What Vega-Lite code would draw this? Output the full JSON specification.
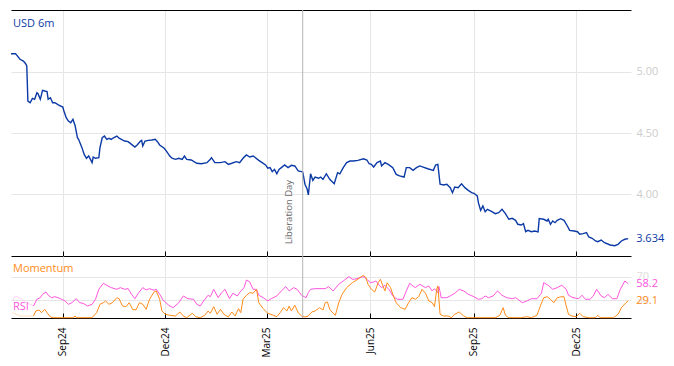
{
  "$schema": "https://vega.github.io/schema/vega-lite/v6.json",
  "background": "white",
  "padding": {"left": 8, "top": 9, "right": 0, "bottom": 0},
  "spacing": 0,
  "bounds": "flush",
  "config": {
    "font": "Open Sans",
    "view": {"stroke": null},
    "axis": {"labelFont": "Open Sans", "labelFontSize": 11, "gridColor": "#e6e6e6", "gridWidth": 1}
  },
  "datasets": {
    "usd": [
      {"date":"2024-07-17","rate":5.150},{"date":"2024-07-21","rate":5.150},{"date":"2024-07-25","rate":5.104},{"date":"2024-07-28","rate":5.090},{"date":"2024-07-30","rate":5.068},{"date":"2024-07-31","rate":5.049},{"date":"2024-08-01","rate":4.762},{"date":"2024-08-03","rate":4.748},{"date":"2024-08-05","rate":4.784},{"date":"2024-08-07","rate":4.776},{"date":"2024-08-09","rate":4.830},{"date":"2024-08-10","rate":4.822},{"date":"2024-08-12","rate":4.776},{"date":"2024-08-14","rate":4.850},{"date":"2024-08-16","rate":4.844},{"date":"2024-08-18","rate":4.839},{"date":"2024-08-19","rate":4.776},{"date":"2024-08-21","rate":4.789},{"date":"2024-08-23","rate":4.748},{"date":"2024-08-25","rate":4.748},{"date":"2024-08-28","rate":4.730},
      {"date":"2024-09-01","rate":4.713},{"date":"2024-09-02","rate":4.680},{"date":"2024-09-04","rate":4.625},{"date":"2024-09-06","rate":4.598},{"date":"2024-09-08","rate":4.584},{"date":"2024-09-10","rate":4.612},{"date":"2024-09-12","rate":4.557},{"date":"2024-09-14","rate":4.461},{"date":"2024-09-15","rate":4.448},{"date":"2024-09-18","rate":4.380},{"date":"2024-09-20","rate":4.325},{"date":"2024-09-22","rate":4.293},{"date":"2024-09-24","rate":4.312},{"date":"2024-09-27","rate":4.257},{"date":"2024-09-28","rate":4.303},{"date":"2024-09-30","rate":4.293},
      {"date":"2024-10-03","rate":4.298},{"date":"2024-10-04","rate":4.380},{"date":"2024-10-06","rate":4.461},{"date":"2024-10-08","rate":4.475},{"date":"2024-10-10","rate":4.448},{"date":"2024-10-12","rate":4.457},{"date":"2024-10-14","rate":4.448},{"date":"2024-10-16","rate":4.461},{"date":"2024-10-19","rate":4.475},{"date":"2024-10-21","rate":4.457},{"date":"2024-10-23","rate":4.448},{"date":"2024-10-26","rate":4.434},{"date":"2024-10-29","rate":4.429},
      {"date":"2024-11-01","rate":4.407},{"date":"2024-11-04","rate":4.385},{"date":"2024-11-06","rate":4.402},{"date":"2024-11-09","rate":4.434},{"date":"2024-11-10","rate":4.440},{"date":"2024-11-11","rate":4.393},{"date":"2024-11-13","rate":4.434},{"date":"2024-11-16","rate":4.440},{"date":"2024-11-19","rate":4.443},{"date":"2024-11-22","rate":4.448},{"date":"2024-11-24","rate":4.429},{"date":"2024-11-26","rate":4.402},{"date":"2024-11-30","rate":4.375},
      {"date":"2024-12-02","rate":4.352},{"date":"2024-12-05","rate":4.311},{"date":"2024-12-07","rate":4.293},{"date":"2024-12-10","rate":4.284},{"date":"2024-12-13","rate":4.293},{"date":"2024-12-16","rate":4.284},{"date":"2024-12-18","rate":4.311},{"date":"2024-12-20","rate":4.284},{"date":"2024-12-24","rate":4.279},{"date":"2024-12-29","rate":4.252},
      {"date":"2025-01-02","rate":4.248},{"date":"2025-01-07","rate":4.257},{"date":"2025-01-10","rate":4.284},{"date":"2025-01-11","rate":4.298},{"date":"2025-01-14","rate":4.257},{"date":"2025-01-19","rate":4.257},{"date":"2025-01-23","rate":4.265},{"date":"2025-01-26","rate":4.243},{"date":"2025-01-29","rate":4.252},
      {"date":"2025-02-02","rate":4.265},{"date":"2025-02-05","rate":4.257},{"date":"2025-02-08","rate":4.293},{"date":"2025-02-11","rate":4.320},{"date":"2025-02-14","rate":4.303},{"date":"2025-02-17","rate":4.311},{"date":"2025-02-22","rate":4.276},{"date":"2025-02-25","rate":4.257},{"date":"2025-02-28","rate":4.238},
      {"date":"2025-03-02","rate":4.211},{"date":"2025-03-04","rate":4.216},{"date":"2025-03-06","rate":4.183},{"date":"2025-03-08","rate":4.202},{"date":"2025-03-10","rate":4.166},{"date":"2025-03-12","rate":4.202},{"date":"2025-03-14","rate":4.216},{"date":"2025-03-17","rate":4.238},{"date":"2025-03-20","rate":4.216},{"date":"2025-03-23","rate":4.235},{"date":"2025-03-26","rate":4.230},{"date":"2025-03-29","rate":4.189},
      {"date":"2025-04-01","rate":4.183},{"date":"2025-04-02","rate":4.180},{"date":"2025-04-04","rate":4.080},{"date":"2025-04-06","rate":4.039},{"date":"2025-04-07","rate":3.992},{"date":"2025-04-09","rate":4.166},{"date":"2025-04-11","rate":4.112},{"date":"2025-04-13","rate":4.139},{"date":"2025-04-16","rate":4.129},{"date":"2025-04-18","rate":4.139},{"date":"2025-04-20","rate":4.120},{"date":"2025-04-23","rate":4.166},{"date":"2025-04-26","rate":4.120},{"date":"2025-04-30","rate":4.084},
      {"date":"2025-05-03","rate":4.175},{"date":"2025-05-05","rate":4.166},{"date":"2025-05-08","rate":4.216},{"date":"2025-05-11","rate":4.257},{"date":"2025-05-14","rate":4.270},{"date":"2025-05-17","rate":4.270},{"date":"2025-05-21","rate":4.276},{"date":"2025-05-26","rate":4.289},{"date":"2025-05-29","rate":4.279},{"date":"2025-05-31","rate":4.248},
      {"date":"2025-06-02","rate":4.243},{"date":"2025-06-04","rate":4.221},{"date":"2025-06-07","rate":4.257},{"date":"2025-06-10","rate":4.270},{"date":"2025-06-11","rate":4.230},{"date":"2025-06-14","rate":4.257},{"date":"2025-06-17","rate":4.243},{"date":"2025-06-21","rate":4.216},{"date":"2025-06-24","rate":4.161},{"date":"2025-06-27","rate":4.148},
      {"date":"2025-07-01","rate":4.139},{"date":"2025-07-03","rate":4.216},{"date":"2025-07-06","rate":4.216},{"date":"2025-07-09","rate":4.194},{"date":"2025-07-12","rate":4.216},{"date":"2025-07-15","rate":4.230},{"date":"2025-07-18","rate":4.221},{"date":"2025-07-22","rate":4.207},{"date":"2025-07-27","rate":4.194},{"date":"2025-07-29","rate":4.238},{"date":"2025-07-31","rate":4.243},
      {"date":"2025-08-02","rate":4.080},{"date":"2025-08-05","rate":4.074},{"date":"2025-08-08","rate":4.080},{"date":"2025-08-11","rate":4.052},{"date":"2025-08-13","rate":4.011},{"date":"2025-08-15","rate":4.057},{"date":"2025-08-18","rate":4.052},{"date":"2025-08-21","rate":4.084},{"date":"2025-08-24","rate":4.052},{"date":"2025-08-27","rate":4.030},{"date":"2025-08-30","rate":4.011},
      {"date":"2025-09-01","rate":4.006},{"date":"2025-09-04","rate":3.984},{"date":"2025-09-05","rate":3.929},{"date":"2025-09-07","rate":3.866},{"date":"2025-09-09","rate":3.902},{"date":"2025-09-11","rate":3.855},{"date":"2025-09-13","rate":3.875},{"date":"2025-09-17","rate":3.855},{"date":"2025-09-20","rate":3.839},{"date":"2025-09-23","rate":3.847},{"date":"2025-09-26","rate":3.875},{"date":"2025-09-29","rate":3.839},
      {"date":"2025-10-02","rate":3.793},{"date":"2025-10-05","rate":3.801},{"date":"2025-10-08","rate":3.784},{"date":"2025-10-10","rate":3.752},{"date":"2025-10-13","rate":3.746},{"date":"2025-10-15","rate":3.757},{"date":"2025-10-17","rate":3.691},{"date":"2025-10-19","rate":3.702},{"date":"2025-10-22","rate":3.691},{"date":"2025-10-25","rate":3.697},{"date":"2025-10-28","rate":3.689},{"date":"2025-10-29","rate":3.798},
      {"date":"2025-11-02","rate":3.793},{"date":"2025-11-05","rate":3.779},{"date":"2025-11-06","rate":3.793},{"date":"2025-11-08","rate":3.752},{"date":"2025-11-10","rate":3.779},{"date":"2025-11-12","rate":3.765},{"date":"2025-11-14","rate":3.784},{"date":"2025-11-17","rate":3.798},{"date":"2025-11-20","rate":3.784},{"date":"2025-11-23","rate":3.738},{"date":"2025-11-25","rate":3.702},{"date":"2025-11-29","rate":3.697},
      {"date":"2025-12-02","rate":3.691},{"date":"2025-12-04","rate":3.670},{"date":"2025-12-07","rate":3.675},{"date":"2025-12-10","rate":3.683},{"date":"2025-12-12","rate":3.648},{"date":"2025-12-15","rate":3.637},{"date":"2025-12-18","rate":3.615},{"date":"2025-12-20","rate":3.609},{"date":"2025-12-23","rate":3.623},{"date":"2025-12-26","rate":3.601},{"date":"2025-12-31","rate":3.582},
      {"date":"2026-01-04","rate":3.576},{"date":"2026-01-07","rate":3.588},{"date":"2026-01-10","rate":3.615},{"date":"2026-01-13","rate":3.629},{"date":"2026-01-16","rate":3.634}
    ],
    "osc": [
      {"date":"2024-07-18","series":"RSI warm-up","value":28.8},{"date":"2024-07-21","series":"RSI warm-up","value":37.3},{"date":"2024-07-25","series":"RSI warm-up","value":33.9},{"date":"2024-07-31","series":"RSI warm-up","value":25.9},{"date":"2024-08-06","series":"RSI warm-up","value":20.3},
      {"date":"2024-07-18","series":"Momentum warm-up","value":9.0},{"date":"2024-07-25","series":"Momentum warm-up","value":3.4},{"date":"2024-08-06","series":"Momentum warm-up","value":3.4},
      {"date":"2024-08-06","series":"RSI","value":20.3},{"date":"2024-08-09","series":"RSI","value":31.7},{"date":"2024-08-12","series":"RSI","value":34.4},{"date":"2024-08-14","series":"RSI","value":40.2},{"date":"2024-08-17","series":"RSI","value":44.1},{"date":"2024-08-19","series":"RSI","value":38.5},{"date":"2024-08-22","series":"RSI","value":34.4},{"date":"2024-08-25","series":"RSI","value":36.1},{"date":"2024-08-30","series":"RSI","value":32.7},{"date":"2024-09-03","series":"RSI","value":28.8},{"date":"2024-09-06","series":"RSI","value":23.2},{"date":"2024-09-09","series":"RSI","value":25.9},{"date":"2024-09-13","series":"RSI","value":32.7},{"date":"2024-09-16","series":"RSI","value":25.9},{"date":"2024-09-19","series":"RSI","value":24.9},{"date":"2024-09-23","series":"RSI","value":20.3},{"date":"2024-09-27","series":"RSI","value":23.2},{"date":"2024-09-30","series":"RSI","value":31.7},
      {"date":"2024-10-03","series":"RSI","value":48.6},{"date":"2024-10-07","series":"RSI","value":58.8},{"date":"2024-10-10","series":"RSI","value":55.4},{"date":"2024-10-14","series":"RSI","value":51.4},{"date":"2024-10-19","series":"RSI","value":48.6},{"date":"2024-10-22","series":"RSI","value":51.4},{"date":"2024-10-26","series":"RSI","value":48.6},{"date":"2024-10-29","series":"RSI","value":49.7},{"date":"2024-11-01","series":"RSI","value":40.2},{"date":"2024-11-04","series":"RSI","value":32.7},{"date":"2024-11-07","series":"RSI","value":41.9},{"date":"2024-11-11","series":"RSI","value":51.4},{"date":"2024-11-14","series":"RSI","value":47.5},{"date":"2024-11-17","series":"RSI","value":49.7},{"date":"2024-11-21","series":"RSI","value":47.0},{"date":"2024-11-23","series":"RSI","value":48.6},{"date":"2024-11-26","series":"RSI","value":40.2},{"date":"2024-11-29","series":"RSI","value":30.5},
      {"date":"2024-12-04","series":"RSI","value":21.5},{"date":"2024-12-08","series":"RSI","value":17.5},{"date":"2024-12-13","series":"RSI","value":25.9},{"date":"2024-12-17","series":"RSI","value":37.3},{"date":"2024-12-21","series":"RSI","value":32.7},{"date":"2024-12-26","series":"RSI","value":31.7},{"date":"2024-12-29","series":"RSI","value":23.2},{"date":"2025-01-01","series":"RSI","value":20.3},{"date":"2025-01-04","series":"RSI","value":28.8},{"date":"2025-01-08","series":"RSI","value":38.5},{"date":"2025-01-10","series":"RSI","value":36.1},{"date":"2025-01-13","series":"RSI","value":48.6},{"date":"2025-01-17","series":"RSI","value":34.4},{"date":"2025-01-20","series":"RSI","value":42.9},{"date":"2025-01-23","series":"RSI","value":48.6},{"date":"2025-01-27","series":"RSI","value":32.7},{"date":"2025-01-30","series":"RSI","value":41.9},
      {"date":"2025-02-03","series":"RSI","value":37.3},{"date":"2025-02-06","series":"RSI","value":45.8},{"date":"2025-02-09","series":"RSI","value":51.4},{"date":"2025-02-11","series":"RSI","value":64.4},{"date":"2025-02-14","series":"RSI","value":61.0},{"date":"2025-02-17","series":"RSI","value":48.6},{"date":"2025-02-20","series":"RSI","value":48.6},{"date":"2025-02-22","series":"RSI","value":38.5},{"date":"2025-02-26","series":"RSI","value":34.4},{"date":"2025-03-02","series":"RSI","value":28.8},{"date":"2025-03-05","series":"RSI","value":32.7},{"date":"2025-03-10","series":"RSI","value":37.3},{"date":"2025-03-14","series":"RSI","value":45.8},{"date":"2025-03-18","series":"RSI","value":53.1},{"date":"2025-03-21","series":"RSI","value":45.8},{"date":"2025-03-25","series":"RSI","value":51.4},{"date":"2025-03-28","series":"RSI","value":48.6},
      {"date":"2025-04-01","series":"RSI","value":38.5},{"date":"2025-04-05","series":"RSI","value":34.4},{"date":"2025-04-07","series":"RSI","value":42.9},{"date":"2025-04-09","series":"RSI","value":48.6},{"date":"2025-04-13","series":"RSI","value":49.7},{"date":"2025-04-22","series":"RSI","value":49.7},{"date":"2025-04-25","series":"RSI","value":53.1},{"date":"2025-04-29","series":"RSI","value":45.8},{"date":"2025-05-04","series":"RSI","value":57.1},{"date":"2025-05-08","series":"RSI","value":62.7},{"date":"2025-05-13","series":"RSI","value":70.0},{"date":"2025-05-16","series":"RSI","value":65.6},{"date":"2025-05-18","series":"RSI","value":65.6},{"date":"2025-05-23","series":"RSI","value":68.3},{"date":"2025-05-26","series":"RSI","value":70.0},{"date":"2025-05-29","series":"RSI","value":65.6},
      {"date":"2025-06-01","series":"RSI","value":59.8},{"date":"2025-06-04","series":"RSI","value":61.0},{"date":"2025-06-06","series":"RSI","value":62.7},{"date":"2025-06-09","series":"RSI","value":55.4},{"date":"2025-06-11","series":"RSI","value":51.4},{"date":"2025-06-14","series":"RSI","value":55.4},{"date":"2025-06-18","series":"RSI","value":47.5},{"date":"2025-06-21","series":"RSI","value":37.3},{"date":"2025-06-25","series":"RSI","value":31.7},{"date":"2025-06-30","series":"RSI","value":31.7},{"date":"2025-07-03","series":"RSI","value":45.8},{"date":"2025-07-06","series":"RSI","value":58.8},{"date":"2025-07-08","series":"RSI","value":55.4},{"date":"2025-07-11","series":"RSI","value":51.4},{"date":"2025-07-15","series":"RSI","value":57.1},{"date":"2025-07-20","series":"RSI","value":51.4},{"date":"2025-07-23","series":"RSI","value":54.2},{"date":"2025-07-26","series":"RSI","value":45.8},{"date":"2025-07-28","series":"RSI","value":49.7},{"date":"2025-07-31","series":"RSI","value":42.9},
      {"date":"2025-08-01","series":"RSI","value":53.1},{"date":"2025-08-03","series":"RSI","value":34.4},{"date":"2025-08-08","series":"RSI","value":34.4},{"date":"2025-08-12","series":"RSI","value":38.5},{"date":"2025-08-15","series":"RSI","value":41.9},{"date":"2025-08-19","series":"RSI","value":48.6},{"date":"2025-08-23","series":"RSI","value":45.8},{"date":"2025-08-27","series":"RSI","value":40.2},{"date":"2025-09-01","series":"RSI","value":36.1},{"date":"2025-09-05","series":"RSI","value":31.7},{"date":"2025-09-08","series":"RSI","value":32.7},{"date":"2025-09-11","series":"RSI","value":37.3},{"date":"2025-09-14","series":"RSI","value":34.4},{"date":"2025-09-18","series":"RSI","value":37.3},{"date":"2025-09-22","series":"RSI","value":45.8},{"date":"2025-09-26","series":"RSI","value":38.5},{"date":"2025-09-30","series":"RSI","value":34.4},
      {"date":"2025-10-05","series":"RSI","value":32.7},{"date":"2025-10-08","series":"RSI","value":34.4},{"date":"2025-10-10","series":"RSI","value":31.7},{"date":"2025-10-14","series":"RSI","value":25.9},{"date":"2025-10-18","series":"RSI","value":28.8},{"date":"2025-10-22","series":"RSI","value":32.7},{"date":"2025-10-27","series":"RSI","value":32.7},{"date":"2025-10-31","series":"RSI","value":41.9},{"date":"2025-11-02","series":"RSI","value":59.8},{"date":"2025-11-06","series":"RSI","value":55.4},{"date":"2025-11-10","series":"RSI","value":48.6},{"date":"2025-11-14","series":"RSI","value":51.4},{"date":"2025-11-18","series":"RSI","value":55.4},{"date":"2025-11-22","series":"RSI","value":48.6},{"date":"2025-11-24","series":"RSI","value":38.5},{"date":"2025-11-28","series":"RSI","value":34.4},
      {"date":"2025-12-03","series":"RSI","value":32.7},{"date":"2025-12-06","series":"RSI","value":38.5},{"date":"2025-12-09","series":"RSI","value":31.7},{"date":"2025-12-13","series":"RSI","value":31.7},{"date":"2025-12-16","series":"RSI","value":37.3},{"date":"2025-12-19","series":"RSI","value":48.6},{"date":"2025-12-23","series":"RSI","value":37.3},{"date":"2025-12-26","series":"RSI","value":34.4},{"date":"2025-12-29","series":"RSI","value":40.2},{"date":"2026-01-02","series":"RSI","value":32.7},{"date":"2026-01-06","series":"RSI","value":32.7},{"date":"2026-01-09","series":"RSI","value":48.6},{"date":"2026-01-13","series":"RSI","value":62.7},{"date":"2026-01-16","series":"RSI","value":58.2},
      {"date":"2024-08-06","series":"Momentum","value":3.4},{"date":"2024-08-08","series":"Momentum","value":11.9},{"date":"2024-08-11","series":"Momentum","value":13.6},{"date":"2024-08-13","series":"Momentum","value":9.0},{"date":"2024-08-16","series":"Momentum","value":14.7},{"date":"2024-08-18","series":"Momentum","value":9.0},{"date":"2024-08-21","series":"Momentum","value":1.7},{"date":"2024-08-24","series":"Momentum","value":0.5},{"date":"2024-08-31","series":"Momentum","value":0.5},{"date":"2024-09-10","series":"Momentum","value":0.5},{"date":"2024-09-12","series":"Momentum","value":3.4},{"date":"2024-09-13","series":"Momentum","value":0.5},{"date":"2024-09-27","series":"Momentum","value":0.5},
      {"date":"2024-10-01","series":"Momentum","value":9.0},{"date":"2024-10-04","series":"Momentum","value":23.2},{"date":"2024-10-07","series":"Momentum","value":25.9},{"date":"2024-10-09","series":"Momentum","value":28.8},{"date":"2024-10-12","series":"Momentum","value":23.2},{"date":"2024-10-15","series":"Momentum","value":25.9},{"date":"2024-10-19","series":"Momentum","value":34.4},{"date":"2024-10-21","series":"Momentum","value":32.7},{"date":"2024-10-24","series":"Momentum","value":20.3},{"date":"2024-10-27","series":"Momentum","value":19.2},{"date":"2024-10-30","series":"Momentum","value":25.9},{"date":"2024-11-02","series":"Momentum","value":14.7},{"date":"2024-11-05","series":"Momentum","value":13.6},{"date":"2024-11-08","series":"Momentum","value":25.9},{"date":"2024-11-11","series":"Momentum","value":23.2},{"date":"2024-11-14","series":"Momentum","value":14.7},{"date":"2024-11-17","series":"Momentum","value":31.7},{"date":"2024-11-21","series":"Momentum","value":44.1},{"date":"2024-11-23","series":"Momentum","value":45.8},{"date":"2024-11-26","series":"Momentum","value":31.7},{"date":"2024-11-28","series":"Momentum","value":11.9},
      {"date":"2024-12-01","series":"Momentum","value":6.3},{"date":"2024-12-05","series":"Momentum","value":4.6},{"date":"2024-12-10","series":"Momentum","value":3.4},{"date":"2024-12-14","series":"Momentum","value":10.2},{"date":"2024-12-17","series":"Momentum","value":3.4},{"date":"2024-12-20","series":"Momentum","value":0.5},{"date":"2024-12-25","series":"Momentum","value":8.0},{"date":"2024-12-28","series":"Momentum","value":2.2},{"date":"2025-01-01","series":"Momentum","value":0.5},{"date":"2025-01-05","series":"Momentum","value":4.6},{"date":"2025-01-08","series":"Momentum","value":11.9},{"date":"2025-01-10","series":"Momentum","value":8.0},{"date":"2025-01-13","series":"Momentum","value":19.2},{"date":"2025-01-16","series":"Momentum","value":6.3},{"date":"2025-01-19","series":"Momentum","value":14.7},{"date":"2025-01-22","series":"Momentum","value":6.3},{"date":"2025-01-26","series":"Momentum","value":1.7},{"date":"2025-01-29","series":"Momentum","value":10.2},
      {"date":"2025-02-01","series":"Momentum","value":3.4},{"date":"2025-02-04","series":"Momentum","value":15.8},{"date":"2025-02-06","series":"Momentum","value":9.0},{"date":"2025-02-08","series":"Momentum","value":31.7},{"date":"2025-02-11","series":"Momentum","value":38.5},{"date":"2025-02-14","series":"Momentum","value":42.9},{"date":"2025-02-17","series":"Momentum","value":41.9},{"date":"2025-02-20","series":"Momentum","value":48.6},{"date":"2025-02-22","series":"Momentum","value":25.9},{"date":"2025-02-26","series":"Momentum","value":15.8},{"date":"2025-03-02","series":"Momentum","value":8.0},{"date":"2025-03-07","series":"Momentum","value":4.6},{"date":"2025-03-10","series":"Momentum","value":2.2},{"date":"2025-03-13","series":"Momentum","value":9.0},{"date":"2025-03-16","series":"Momentum","value":17.5},{"date":"2025-03-19","series":"Momentum","value":11.9},{"date":"2025-03-21","series":"Momentum","value":20.3},{"date":"2025-03-23","series":"Momentum","value":11.9},{"date":"2025-03-26","series":"Momentum","value":21.5},{"date":"2025-03-29","series":"Momentum","value":9.0},
      {"date":"2025-04-01","series":"Momentum","value":3.4},{"date":"2025-04-04","series":"Momentum","value":1.7},{"date":"2025-04-07","series":"Momentum","value":3.4},{"date":"2025-04-10","series":"Momentum","value":10.2},{"date":"2025-04-13","series":"Momentum","value":11.9},{"date":"2025-04-17","series":"Momentum","value":17.5},{"date":"2025-04-20","series":"Momentum","value":13.6},{"date":"2025-04-22","series":"Momentum","value":25.9},{"date":"2025-04-24","series":"Momentum","value":27.1},{"date":"2025-04-26","series":"Momentum","value":14.7},{"date":"2025-04-29","series":"Momentum","value":8.0},{"date":"2025-05-01","series":"Momentum","value":4.6},{"date":"2025-05-04","series":"Momentum","value":25.9},{"date":"2025-05-07","series":"Momentum","value":40.2},{"date":"2025-05-11","series":"Momentum","value":51.4},{"date":"2025-05-16","series":"Momentum","value":59.8},{"date":"2025-05-20","series":"Momentum","value":64.4},{"date":"2025-05-24","series":"Momentum","value":70.0},{"date":"2025-05-26","series":"Momentum","value":72.4},{"date":"2025-05-28","series":"Momentum","value":68.3},{"date":"2025-05-30","series":"Momentum","value":57.1},
      {"date":"2025-06-02","series":"Momentum","value":48.6},{"date":"2025-06-05","series":"Momentum","value":44.1},{"date":"2025-06-08","series":"Momentum","value":59.8},{"date":"2025-06-10","series":"Momentum","value":65.6},{"date":"2025-06-12","series":"Momentum","value":55.4},{"date":"2025-06-14","series":"Momentum","value":45.8},{"date":"2025-06-16","series":"Momentum","value":59.8},{"date":"2025-06-19","series":"Momentum","value":51.4},{"date":"2025-06-21","series":"Momentum","value":40.2},{"date":"2025-06-24","series":"Momentum","value":25.9},{"date":"2025-06-28","series":"Momentum","value":17.5},{"date":"2025-07-02","series":"Momentum","value":14.7},{"date":"2025-07-05","series":"Momentum","value":25.9},{"date":"2025-07-08","series":"Momentum","value":34.4},{"date":"2025-07-11","series":"Momentum","value":31.7},{"date":"2025-07-14","series":"Momentum","value":36.1},{"date":"2025-07-17","series":"Momentum","value":48.6},{"date":"2025-07-20","series":"Momentum","value":41.9},{"date":"2025-07-23","series":"Momentum","value":28.8},{"date":"2025-07-26","series":"Momentum","value":25.9},{"date":"2025-07-28","series":"Momentum","value":19.2},{"date":"2025-07-30","series":"Momentum","value":48.6},{"date":"2025-07-31","series":"Momentum","value":54.2},
      {"date":"2025-08-02","series":"Momentum","value":6.3},{"date":"2025-08-05","series":"Momentum","value":3.4},{"date":"2025-08-09","series":"Momentum","value":3.4},{"date":"2025-08-12","series":"Momentum","value":0.5},{"date":"2025-08-15","series":"Momentum","value":6.3},{"date":"2025-08-19","series":"Momentum","value":10.2},{"date":"2025-08-23","series":"Momentum","value":3.4},{"date":"2025-08-26","series":"Momentum","value":0.5},{"date":"2025-09-08","series":"Momentum","value":0.5},{"date":"2025-09-20","series":"Momentum","value":0.5},{"date":"2025-09-24","series":"Momentum","value":4.6},{"date":"2025-09-27","series":"Momentum","value":17.5},{"date":"2025-09-29","series":"Momentum","value":4.6},{"date":"2025-10-02","series":"Momentum","value":0.5},{"date":"2025-10-13","series":"Momentum","value":0.5},{"date":"2025-10-18","series":"Momentum","value":2.2},{"date":"2025-10-22","series":"Momentum","value":0.5},{"date":"2025-10-27","series":"Momentum","value":4.6},{"date":"2025-10-30","series":"Momentum","value":20.3},
      {"date":"2025-11-02","series":"Momentum","value":34.4},{"date":"2025-11-05","series":"Momentum","value":36.1},{"date":"2025-11-08","series":"Momentum","value":31.7},{"date":"2025-11-11","series":"Momentum","value":25.9},{"date":"2025-11-14","series":"Momentum","value":34.4},{"date":"2025-11-18","series":"Momentum","value":36.1},{"date":"2025-11-20","series":"Momentum","value":36.1},{"date":"2025-11-22","series":"Momentum","value":20.3},{"date":"2025-11-24","series":"Momentum","value":6.3},{"date":"2025-11-27","series":"Momentum","value":3.4},{"date":"2025-12-01","series":"Momentum","value":2.2},{"date":"2025-12-04","series":"Momentum","value":8.0},{"date":"2025-12-07","series":"Momentum","value":2.2},{"date":"2025-12-12","series":"Momentum","value":0.5},{"date":"2025-12-18","series":"Momentum","value":0.5},{"date":"2025-12-20","series":"Momentum","value":4.6},{"date":"2025-12-22","series":"Momentum","value":0.5},{"date":"2026-01-03","series":"Momentum","value":0.5},{"date":"2026-01-07","series":"Momentum","value":6.3},{"date":"2026-01-10","series":"Momentum","value":17.5},{"date":"2026-01-14","series":"Momentum","value":25.9},{"date":"2026-01-16","series":"Momentum","value":29.1}
    ]
  },
  "vconcat": [
    {
      "width": 620,
      "height": 246,
      "resolve": {"axis": {"x": "independent"}},
      "layer": [
        {
          "data": {"name": "usd"},
          "mark": {"type": "line", "color": "#0b3aa6", "strokeWidth": 1.4},
          "encoding": {
            "x": {"field": "date", "type": "temporal",
              "scale": {"type": "utc", "domain": [{"year": 2024, "month": 7, "date": 17, "utc": true}, {"year": 2026, "month": 1, "date": 18, "hours": 12, "utc": true}]},
              "axis": {"orient": "bottom", "title": null, "labels": false, "grid": true, "tickSize": -5, "tickColor": "#000", "domainColor": "#000",
                "values": [{"year": 2024, "month": 9, "date": 1, "utc": true}, {"year": 2024, "month": 12, "date": 1, "utc": true}, {"year": 2025, "month": 3, "date": 1, "utc": true}, {"year": 2025, "month": 6, "date": 1, "utc": true}, {"year": 2025, "month": 9, "date": 1, "utc": true}, {"year": 2025, "month": 12, "date": 1, "utc": true}]}},
            "y": {"field": "rate", "type": "quantitative",
              "scale": {"domain": [3.492, 5.508], "nice": false, "zero": false},
              "axis": {"orient": "right", "title": null, "values": [4, 4.5, 5], "format": ".2f", "labelColor": "#cccccc", "ticks": false, "domain": false, "labelPadding": 5}}
          }
        },
        {
          "data": {"values": [{"date": "2025-04-02", "event": "Liberation Day"}]},
          "mark": {"type": "rule", "color": "#b3b3b3", "strokeWidth": 1},
          "encoding": {
            "x": {"field": "date", "type": "temporal",
              "axis": {"orient": "top", "title": null, "labels": false, "ticks": false, "grid": false, "domainColor": "#000"}}
          }
        },
        {
          "data": {"values": [{"date": "2025-04-02", "event": "Liberation Day"}]},
          "mark": {"type": "text", "angle": 270, "align": "left", "baseline": "bottom", "dy": -9, "fontSize": 9.5, "color": "#666666"},
          "encoding": {
            "x": {"field": "date", "type": "temporal", "axis": null},
            "y": {"datum": 3.588},
            "text": {"field": "event"}
          }
        },
        {
          "data": {"values": [{"name": "USD 6m"}]},
          "mark": {"type": "text", "align": "left", "baseline": "middle", "dx": 2, "fontSize": 11, "color": "#0b3aa6"},
          "encoding": {
            "x": {"datum": {"year": 2024, "month": 7, "date": 17, "utc": true}, "type": "temporal", "axis": null},
            "y": {"datum": 5.39},
            "text": {"field": "name"}
          }
        },
        {
          "data": {"values": [{"date": "2026-01-16", "rate": 3.634, "label": "3.634"}]},
          "mark": {"type": "text", "align": "left", "baseline": "middle", "dx": 8, "fontSize": 11, "color": "#0b3aa6"},
          "encoding": {
            "x": {"field": "date", "type": "temporal", "axis": null},
            "y": {"field": "rate", "type": "quantitative"},
            "text": {"field": "label"}
          }
        }
      ]
    },
    {
      "width": 620,
      "height": 62,
      "layer": [
        {
          "data": {"name": "osc"},
          "mark": {"type": "line", "strokeWidth": 1},
          "encoding": {
            "x": {"field": "date", "type": "temporal",
              "scale": {"type": "utc", "domain": [{"year": 2024, "month": 7, "date": 17, "utc": true}, {"year": 2026, "month": 1, "date": 18, "hours": 12, "utc": true}]},
              "axis": {"orient": "bottom", "title": null, "format": "%b%y", "labelAngle": -90, "labelFontSize": 10, "labelColor": "#000", "grid": true, "tickSize": -5, "tickColor": "#000", "domainColor": "#000", "labelPadding": 14,
                "values": [{"year": 2024, "month": 9, "date": 1, "utc": true}, {"year": 2024, "month": 12, "date": 1, "utc": true}, {"year": 2025, "month": 3, "date": 1, "utc": true}, {"year": 2025, "month": 6, "date": 1, "utc": true}, {"year": 2025, "month": 9, "date": 1, "utc": true}, {"year": 2025, "month": 12, "date": 1, "utc": true}]}},
            "y": {"field": "value", "type": "quantitative",
              "scale": {"domain": [0, 105], "nice": false},
              "axis": {"orient": "right", "title": null, "values": [30, 70], "labelColor": "#dddddd", "ticks": false, "domain": false, "labelPadding": 5}},
            "color": {"field": "series", "type": "nominal", "legend": null,
              "scale": {"domain": ["Momentum", "RSI", "Momentum warm-up", "RSI warm-up"], "range": ["#ff8c1a", "#ff55dd", "#ffe0c0", "#ffd0f3"]}}
          }
        },
        {
          "data": {"values": [{"date": "2025-04-02"}]},
          "mark": {"type": "rule", "color": "#b3b3b3", "strokeWidth": 1},
          "encoding": {"x": {"field": "date", "type": "temporal"}}
        },
        {
          "data": {"values": [{"name": "Momentum", "pos": 83}, {"name": "RSI", "pos": 19}]},
          "mark": {"type": "text", "align": "left", "baseline": "middle", "dx": 2, "fontSize": 11},
          "encoding": {
            "x": {"datum": {"year": 2024, "month": 7, "date": 17, "utc": true}, "type": "temporal"},
            "y": {"field": "pos", "type": "quantitative"},
            "text": {"field": "name"},
            "color": {"field": "name", "type": "nominal", "legend": null}
          }
        },
        {
          "data": {"values": [{"date": "2026-01-16", "series": "RSI", "value": 58.2, "label": "58.2"}, {"date": "2026-01-16", "series": "Momentum", "value": 29.1, "label": "29.1"}]},
          "mark": {"type": "text", "align": "left", "baseline": "middle", "dx": 8, "fontSize": 11},
          "encoding": {
            "x": {"field": "date", "type": "temporal"},
            "y": {"field": "value", "type": "quantitative"},
            "text": {"field": "label"},
            "color": {"field": "series", "type": "nominal", "legend": null}
          }
        }
      ]
    }
  ]
}
